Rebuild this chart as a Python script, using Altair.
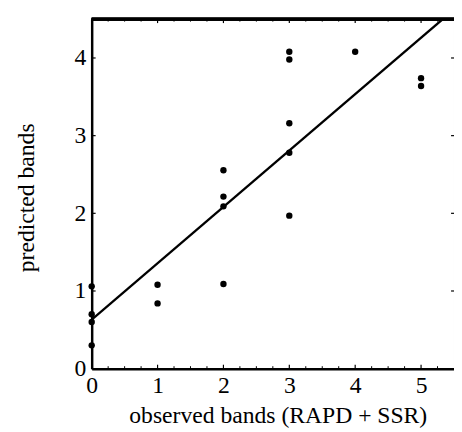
import altair as alt
import pandas as pd

# observed vs predicted band counts
obs = [0, 0, 0, 0, 1, 1, 2, 2, 2, 2, 3, 3, 3, 3, 3, 4, 5, 5]
pred = [1.06, 0.70, 0.60, 0.30, 1.08, 0.84, 2.555, 2.215, 2.09, 1.09,
        4.08, 3.98, 3.16, 2.78, 1.97, 4.08, 3.74, 3.64]

# fitted line end points
line_x = [0, 5.33]
line_y = [0.63, 4.5]

# axis ticks
x_labels = [0, 1, 2, 3, 4, 5]
x_minor = [0.25, 0.5, 0.75, 1.25, 1.5, 1.75, 2.25, 2.5, 2.75, 3.25, 3.5, 3.75,
           4.25, 4.5, 4.75, 5.25]
y_labels = [0, 1, 2, 3, 4]

X_DOMAIN = [0, 5.5]
Y_DOMAIN = [0, 4.5]
W, H = 368, 355
FONT = "Liberation Serif"

pts = pd.DataFrame({"x": obs, "y": pred})
line_df = pd.DataFrame({"x": line_x, "y": line_y})
xmaj = pd.DataFrame({"x": x_labels})
xmin = pd.DataFrame({"x": x_minor})
ymaj = pd.DataFrame({"y": y_labels})

xs = alt.Scale(domain=X_DOMAIN, nice=False, zero=False)
ys = alt.Scale(domain=Y_DOMAIN, nice=False, zero=False)

x_axis = alt.Axis(
    values=x_labels, format="d", ticks=False, tickSize=0, grid=False,
    domain=True, domainColor="black", domainWidth=2.5,
    labelFont=FONT, labelFontSize=24, labelColor="black",
    labelPadding=24, labelBaseline="alphabetic", labelFlush=False,
    title="observed bands (RAPD + SSR)", titleFont=FONT, titleFontSize=24,
    titleFontWeight="normal", titleColor="black",
    titleX=189, titleY=55, titleBaseline="alphabetic", titleAlign="center",
)
y_axis = alt.Axis(
    values=y_labels, format="d", ticks=False, tickSize=0, grid=False,
    domain=True, domainColor="black", domainWidth=2.5,
    labelFont=FONT, labelFontSize=24, labelColor="black",
    labelPadding=6, labelBaseline="middle", labelFlush=False,
    title="predicted bands", titleFont=FONT, titleFontSize=24,
    titleFontWeight="normal", titleColor="black",
    titleX=-59, titleY=181, titleAngle=-90,
    titleBaseline="alphabetic", titleAlign="center",
)


def X():
    return alt.X("x:Q", scale=xs, axis=x_axis)


def Y():
    return alt.Y("y:Q", scale=ys, axis=y_axis)


points = alt.Chart(pts).mark_circle(size=42, color="black", opacity=1).encode(
    x=X(), y=Y()
)

fit = alt.Chart(line_df).mark_line(color="black", strokeWidth=2.4, clip=True).encode(
    x=X(), y=Y()
)

top_frame = alt.Chart(xmaj).mark_rule(color="black", strokeWidth=2.6).encode(
    x=alt.value(0), x2=alt.value(W), y=alt.value(0)
)

bottom_major = alt.Chart(xmaj).mark_rule(color="black", strokeWidth=1.2).encode(
    x=X(), y=alt.value(H), y2=alt.value(H - 4)
)
bottom_minor = alt.Chart(xmin).mark_rule(color="black", strokeWidth=1).encode(
    x=X(), y=alt.value(H), y2=alt.value(H - 2.5)
)
top_major = alt.Chart(xmaj).mark_rule(color="black", strokeWidth=1.2).encode(
    x=X(), y=alt.value(0), y2=alt.value(4)
)
top_minor = alt.Chart(xmin).mark_rule(color="black", strokeWidth=1).encode(
    x=X(), y=alt.value(0), y2=alt.value(2.5)
)
left_major = alt.Chart(ymaj).mark_rule(color="black", strokeWidth=1.2).encode(
    y=Y(), x=alt.value(0), x2=alt.value(4)
)
right_major = alt.Chart(ymaj).mark_rule(color="black", strokeWidth=1.2).encode(
    y=Y(), x=alt.value(W), x2=alt.value(W - 3)
)

chart = alt.layer(
    points, fit, bottom_major, bottom_minor, top_major, top_minor,
    left_major, right_major, top_frame,
).properties(
    width=W, height=H,
    autosize=alt.AutoSizeParams(type="none"),
    padding={"left": 85, "top": 8, "right": 0, "bottom": 60},
    background="white",
).configure_view(
    stroke="#999999", strokeWidth=1,
)

chart.save("out.html", embed_options={"renderer": "svg", "actions": False})
